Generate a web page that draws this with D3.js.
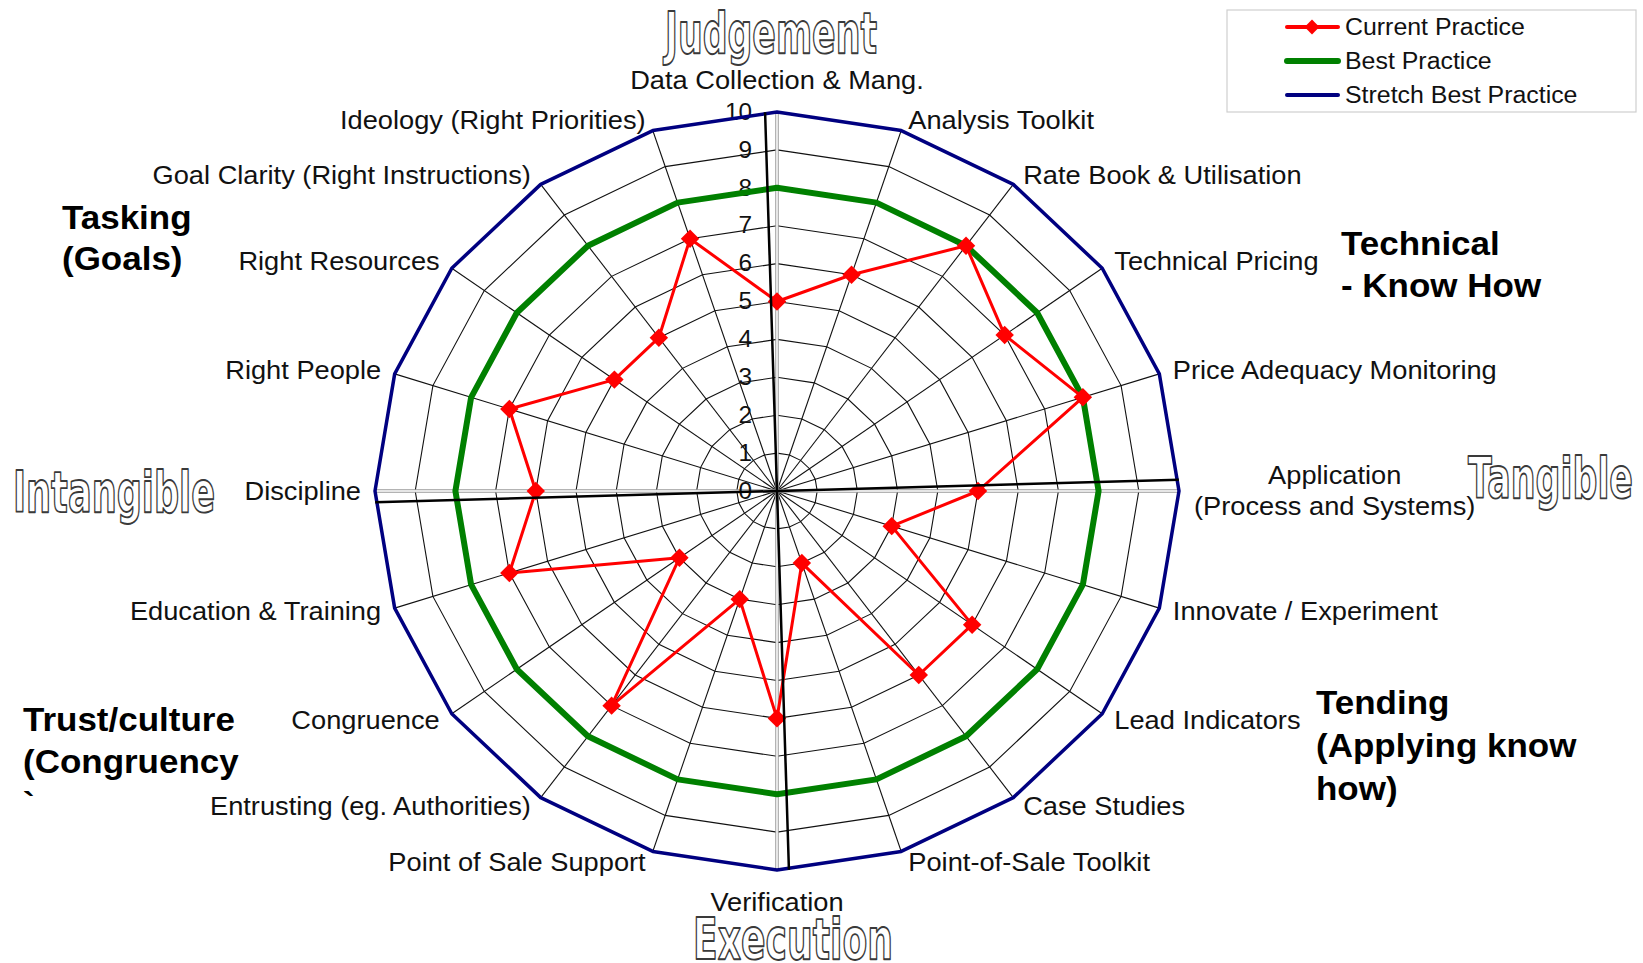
<!DOCTYPE html>
<html>
<head>
<meta charset="utf-8">
<script src="https://cdn.jsdelivr.net/npm/d3@7"></script>
<style>
  html, body { margin: 0; padding: 0; background: #fff; }
  svg { display: block; font-family: "Liberation Sans", Arial, sans-serif; }
</style>
</head>
<body>
<svg id="chart" width="1643" height="963"></svg>
<script>
// ---- data ----
const categories = [
  "Data Collection & Mang.", "Analysis Toolkit", "Rate Book & Utilisation",
  "Technical Pricing", "Price Adequacy Monitoring", "Application\n(Process and Systems)",
  "Innovate / Experiment", "Lead Indicators", "Case Studies", "Point-of-Sale Toolkit",
  "Verification", "Point of Sale Support", "Entrusting (eg. Authorities)", "Congruence",
  "Education & Training", "Discipline", "Right People", "Right Resources",
  "Goal Clarity (Right Instructions)", "Ideology (Right Priorities)"
];
const currentPractice = [5, 6, 8, 7, 8, 5, 3, 6, 6, 2, 6, 3, 7, 3, 7, 6, 7, 5, 5, 7];
const bestPractice    = [8, 8, 8, 8, 8, 8, 8, 8, 8, 8, 8, 8, 8, 8, 8, 8, 8, 8, 8, 8];
const stretchPractice = [10, 10, 10, 10, 10, 10, 10, 10, 10, 10, 10, 10, 10, 10, 10, 10, 10, 10, 10, 10];
const seriesNames = ["Current Practice", "Best Practice", "Stretch Best Practice"];
const tickValues = [0, 1, 2, 3, 4, 5, 6, 7, 8, 9, 10];
const axisTitles = ["Judgement", "Tangible", "Execution", "Intangible"];
const groupLabels = [
  ["Tasking", "(Goals)"],
  ["Technical", "- Know How"],
  ["Tending", "(Applying know", "how)"],
  ["Trust/culture", "(Congruency", "`"]
];

// ---- layout ----
const svg = d3.select("#chart");
const cx = 777, cy = 491;
const SX = 1.06;             // horizontal stretch of the whole figure
const n = categories.length;
const angle = d3.scaleLinear().domain([0, n]).range([0, 2 * Math.PI]);
const rX = d3.scaleLinear().domain([0, 10]).range([0, 402]);
const rY = d3.scaleLinear().domain([0, 10]).range([0, 379]);
const pt = (i, v) => [cx + rX(v) * Math.sin(angle(i)), cy - rY(v) * Math.cos(angle(i))];
const closed = d3.line().curve(d3.curveLinearClosed);
const idx = d3.range(n);
const vmax = d3.max(tickValues);

// stretched text helper
function stext(parent, x, y) {
  return parent.append("g").attr("transform", `translate(${x},${y})`)
    .append("text").attr("transform", `scale(${SX},1)`);
}

// ---- grid ----
const grid = svg.append("g").attr("class", "grid");
grid.selectAll("line.spoke").data(idx.filter(i => i % 5 !== 0)).join("line")
  .attr("class", "spoke")
  .attr("x1", cx).attr("y1", cy)
  .attr("x2", i => pt(i, vmax)[0]).attr("y2", i => pt(i, vmax)[1])
  .attr("stroke", "#111").attr("stroke-width", 1.1);

grid.selectAll("path.ring").data(tickValues.filter(t => t > 0)).join("path")
  .attr("class", "ring")
  .attr("d", t => closed(idx.map(i => pt(i, t))))
  .attr("fill", "none").attr("stroke", "#111").attr("stroke-width", 1.1);

// main axes drawn as light double lines
const mainAxes = idx.filter(i => i % 5 === 0);
grid.selectAll("line.main-outer").data(mainAxes).join("line")
  .attr("class", "main-outer")
  .attr("x1", cx).attr("y1", cy)
  .attr("x2", i => pt(i, vmax)[0]).attr("y2", i => pt(i, vmax)[1])
  .attr("stroke", "#9a9a9a").attr("stroke-width", 3.5);
grid.selectAll("line.main-inner").data(mainAxes).join("line")
  .attr("class", "main-inner")
  .attr("x1", cx).attr("y1", cy)
  .attr("x2", i => pt(i, vmax)[0]).attr("y2", i => pt(i, vmax)[1])
  .attr("stroke", "#ffffff").attr("stroke-width", 1.5);

// tick labels along the top axis
const tickG = svg.append("g").attr("class", "ticks");
tickValues.forEach(t => {
  stext(tickG, cx - 25, cy - rY(t))
    .attr("text-anchor", "end").attr("dominant-baseline", "central")
    .attr("font-size", 23).attr("fill", "#111").text(t);
});

// ---- series ----
const series = [
  { name: seriesNames[2], values: stretchPractice, color: "#000080", width: 3.5 },
  { name: seriesNames[1], values: bestPractice, color: "#008000", width: 6 },
  { name: seriesNames[0], values: currentPractice, color: "#ff0000", width: 3, marker: true }
];

const seriesG = svg.append("g").attr("class", "series");
series.filter(s => !s.marker).forEach(s => {
  seriesG.append("path")
    .attr("d", closed(s.values.map((v, i) => pt(i, v))))
    .attr("fill", "none").attr("stroke", s.color)
    .attr("stroke-width", s.width).attr("stroke-linejoin", "round");
});

// quadrant cross, slightly rotated
const tilt = -1.7 * Math.PI / 180;
const crossG = svg.append("g").attr("class", "cross");
[0, n / 4].forEach(k => {
  const a = angle(k) + tilt;
  crossG.append("line")
    .attr("x1", cx - rX(vmax) * Math.sin(a)).attr("y1", cy + rY(vmax) * Math.cos(a))
    .attr("x2", cx + rX(vmax) * Math.sin(a)).attr("y2", cy - rY(vmax) * Math.cos(a))
    .attr("stroke", "#000").attr("stroke-width", 2.5);
});

const diamond = d3.symbol().type(d3.symbolSquare).size(170);
series.filter(s => s.marker).forEach(s => {
  seriesG.append("path")
    .attr("d", closed(s.values.map((v, i) => pt(i, v))))
    .attr("fill", "none").attr("stroke", s.color)
    .attr("stroke-width", s.width).attr("stroke-linejoin", "round");
  seriesG.selectAll("path.mk").data(s.values).join("path")
    .attr("class", "mk")
    .attr("d", diamond)
    .attr("transform", (v, i) => `translate(${pt(i, v)[0]},${pt(i, v)[1]}) rotate(45)`)
    .attr("fill", s.color);
});

// ---- category labels ----
const labG = svg.append("g").attr("class", "cat-labels");
const labSize = 25.7;
categories.forEach((c, i) => {
  const a = angle(i);
  const [vx, vy] = pt(i, vmax);
  const s = Math.sin(a), co = Math.cos(a);
  const lines = c.split("\n");
  if (Math.abs(s) < 0.01) {
    stext(labG, vx, vy - 32 * Math.sign(co))
      .attr("text-anchor", "middle").attr("dominant-baseline", "central")
      .attr("font-size", labSize).attr("fill", "#111").text(c);
  } else if (lines.length > 1) {
    const t = stext(labG, vx + 15, vy).attr("font-size", labSize).attr("fill", "#111");
    const spans = lines.map((l, k) => t.append("tspan")
      .attr("dominant-baseline", "central")
      .attr("y", (k - (lines.length - 1) / 2) * 31).text(l));
    const w = d3.max(spans, sp => sp.node().getComputedTextLength());
    spans.forEach(sp => sp.attr("x", w / 2).attr("text-anchor", "middle"));
  } else {
    const off = 4 + 10 * Math.abs(s);
    stext(labG, vx + Math.sign(s) * off, vy - 11 * co)
      .attr("text-anchor", s > 0 ? "start" : "end").attr("dominant-baseline", "central")
      .attr("font-size", labSize).attr("fill", "#111").text(c);
  }
});

// ---- outlined axis titles ----
const titleG = svg.append("g").attr("class", "axis-titles");
const titlePos = [
  { x: 665, y: 53, w: 212 },
  { x: 1468, y: 498, w: 165 },
  { x: 693, y: 959, w: 200 },
  { x: 13, y: 512, w: 202 }
];
axisTitles.forEach((t, k) => {
  const p = titlePos[k];
  titleG.append("g").attr("transform", `translate(${p.x},${p.y}) scale(1,1.6)`)
    .append("text")
    .attr("x", 0).attr("y", 0)
    .attr("textLength", p.w).attr("lengthAdjust", "spacingAndGlyphs")
    .attr("font-family", "'DejaVu Sans', sans-serif")
    .attr("font-weight", "bold").attr("font-size", 36)
    .attr("fill", "#fff").attr("stroke", "#3a3a3a").attr("stroke-width", 1.2)
    .attr("stroke-linejoin", "round")
    .text(t);
});

// ---- group labels ----
const grpG = svg.append("g").attr("class", "groups");
const grpPos = [
  { x: 62, y: 229, dy: 41 },
  { x: 1341, y: 255, dy: 42 },
  { x: 1316, y: 714, dy: 43 },
  { x: 23, y: 731, dy: 42 }
];
groupLabels.forEach((lines, k) => {
  const p = grpPos[k];
  const t = stext(grpG, p.x, p.y).attr("font-size", 33).attr("font-weight", "bold").attr("fill", "#000");
  lines.forEach((l, j) => t.append("tspan").attr("x", 0).attr("y", j * p.dy).text(l));
});

// ---- legend ----
const leg = svg.append("g").attr("class", "legend");
leg.append("rect").attr("x", 1227).attr("y", 10).attr("width", 409).attr("height", 102)
  .attr("fill", "#fff").attr("stroke", "#cfcfcf").attr("stroke-width", 1.2);
const legRows = [series[2], series[1], series[0]];
legRows.forEach((s, k) => {
  const y = 27 + k * 34;
  leg.append("line").attr("x1", 1287).attr("x2", 1338).attr("y1", y).attr("y2", y)
    .attr("stroke", s.color).attr("stroke-width", s.marker ? 4 : (s.width > 5 ? 6 : 4))
    .attr("stroke-linecap", "round");
  if (s.marker) {
    leg.append("path").attr("d", d3.symbol().type(d3.symbolSquare).size(110))
      .attr("transform", `translate(${1312},${y}) rotate(45)`).attr("fill", s.color);
  }
  stext(leg, 1345, y).attr("dominant-baseline", "central")
    .attr("font-size", 23.5).attr("fill", "#111").text(s.name);
});
</script>
</body>
</html>
